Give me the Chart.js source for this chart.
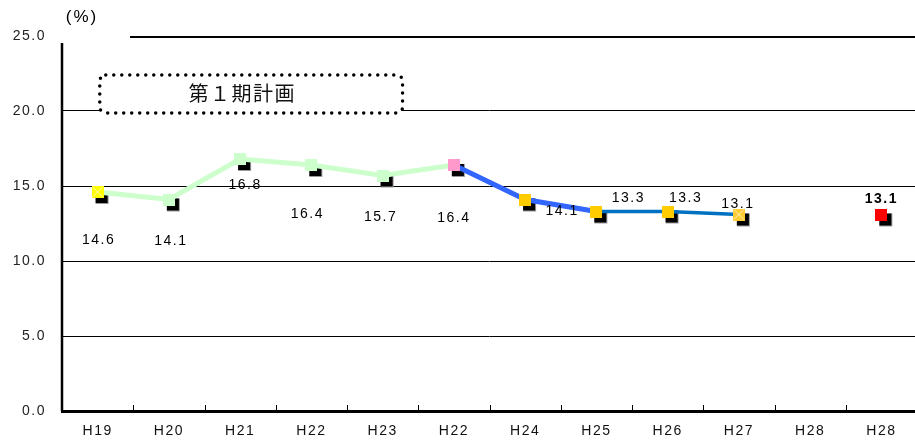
<!DOCTYPE html>
<html>
<head>
<meta charset="utf-8">
<script src="https://cdn.jsdelivr.net/npm/chart.js@4"></script>
<style>
  html, body { margin: 0; padding: 0; background: #fff; overflow: hidden; }
  canvas { display: block; }
</style>
</head>
<body>
<canvas id="c" width="924" height="441"></canvas>
<script>
// Fiscal years on the horizontal axis (H22 and H28 appear twice on purpose)
const years = ['H19', 'H20', 'H21', 'H22', 'H23', 'H22', 'H24', 'H25', 'H26', 'H27', 'H28', 'H28'];
// Rate (%) for each year; no value for the first H28 slot
const rates = [14.6, 14.1, 16.8, 16.4, 15.7, 16.4, 14.1, 13.3, 13.3, 13.1, null, 13.1];
// Value-axis ticks
const yTicks = [0, 5, 10, 15, 20, 25];
const planLabel = '第１期計画';
const unitLabel = '(%)';

// Which stretch of the series each line segment covers (inclusive indices)
const greenRange = [0, 5];
const blueRange = [5, 7];
const navyRange = [7, 9];

function part(range) {
  return rates.map((v, i) => (i >= range[0] && i <= range[1]) ? v : null);
}

// Square marker, optionally with a pale cross through it
function makeMarker(fill, cross) {
  const c = document.createElement('canvas');
  c.width = 12; c.height = 12;
  const g = c.getContext('2d');
  g.fillStyle = fill;
  g.fillRect(0, 0, 12, 12);
  if (cross) {
    g.strokeStyle = cross;
    g.lineWidth = 1;
    g.beginPath();
    g.moveTo(1, 1); g.lineTo(11, 11);
    g.moveTo(11, 1); g.lineTo(1, 11);
    g.stroke();
  }
  return c;
}

const markerStyles = [
  makeMarker('#ffff00', '#ffffb0'),
  makeMarker('#ccffcc'), makeMarker('#ccffcc'), makeMarker('#ccffcc'), makeMarker('#ccffcc'),
  makeMarker('#ff99cc'),
  makeMarker('#ffcc00'), makeMarker('#ffcc00'), makeMarker('#ffcc00'),
  makeMarker('#ffcc33', '#fff0b0'),
  makeMarker('#ffffff'),
  makeMarker('#ff0000')
];

// Where each value label sits relative to its marker
const labelOffsets = [[1, 48], [2, 42], [5, 26], [-4, 49], [-2, 42], [0, 53],
                      [37, 12], [32, -13], [18, -13], [-1, -10], null, [0, -15]];

const AXIS_FONT = '"Liberation Sans", Arial, sans-serif';

const decorPlugin = {
  id: 'decor',
  beforeDraw(chart) {
    // slightly airy lettering for all chart text
    chart.ctx.letterSpacing = '1.5px';
  },
  beforeDatasetsDraw(chart) {
    const ctx = chart.ctx;
    const meta = chart.getDatasetMeta(0);
    ctx.save();
    meta.data.forEach((pt, i) => {
      if (rates[i] == null || pt.skip) return;
      // drop shadow behind each marker
      ctx.fillStyle = '#9a9a9a';
      ctx.fillRect(pt.x - 2, pt.y - 1, 13, 13);
      ctx.fillStyle = '#000';
      ctx.fillRect(pt.x - 2, pt.y - 1, 12, 12);
    });
    ctx.restore();
  },
  afterDatasetsDraw(chart) {
    const ctx = chart.ctx;
    const meta = chart.getDatasetMeta(0);
    ctx.save();
    ctx.fillStyle = '#000';
    ctx.textAlign = 'center';
    ctx.textBaseline = 'middle';
    meta.data.forEach((pt, i) => {
      if (rates[i] == null || !labelOffsets[i]) return;
      const bold = i === rates.length - 1;
      ctx.font = (bold ? 'bold ' : '') + '14px ' + AXIS_FONT;
      ctx.fillText(rates[i].toFixed(1), pt.x + labelOffsets[i][0], pt.y + labelOffsets[i][1]);
    });
    ctx.restore();
  },
  afterDraw(chart) {
    const ctx = chart.ctx;
    const area = chart.chartArea;
    const x = chart.scales.x, y = chart.scales.y;
    ctx.save();

    // left axis line
    ctx.strokeStyle = '#000';
    ctx.lineWidth = 2.5;
    ctx.beginPath();
    ctx.moveTo(area.left, area.top + 7);
    ctx.lineTo(area.left, area.bottom);
    ctx.stroke();

    // top rule at the maximum value
    const yTop = y.getPixelForValue(25);
    ctx.lineWidth = 2;
    ctx.beginPath();
    ctx.moveTo(area.left + 68, yTop + 1);
    ctx.lineTo(area.right, yTop + 1);
    ctx.stroke();

    // short tick marks between categories, pointing into the plot
    ctx.lineWidth = 1;
    for (let i = 1; i < years.length; i++) {
      const px = Math.round((x.getPixelForValue(i - 1) + x.getPixelForValue(i)) / 2) + 0.5;
      ctx.beginPath();
      ctx.moveTo(px, area.bottom);
      ctx.lineTo(px, area.bottom - 6);
      ctx.stroke();
    }

    // unit caption
    ctx.fillStyle = '#000';
    ctx.font = '17px ' + AXIS_FONT;
    ctx.letterSpacing = '2px';
    ctx.textAlign = 'center';
    ctx.textBaseline = 'middle';
    ctx.fillText(unitLabel, area.left + 20, area.top - 19);

    // plan-period callout: dotted rounded box with white fill
    const bx1 = x.getPixelForValue(0.03), bx2 = x.getPixelForValue(4.28);
    const by1 = y.getPixelForValue(22.4), by2 = y.getPixelForValue(19.87);
    ctx.fillStyle = '#fff';
    ctx.beginPath();
    ctx.roundRect(bx1, by1, bx2 - bx1, by2 - by1, 6);
    ctx.fill();
    ctx.setLineDash([0, 8]);
    ctx.lineCap = 'round';
    ctx.lineWidth = 3.5;
    ctx.strokeStyle = '#000';
    ctx.stroke();
    ctx.setLineDash([]);
    ctx.fillStyle = '#111';
    ctx.letterSpacing = '1.5px';
    ctx.font = '20px "Noto Sans CJK JP"';
    ctx.fillText(planLabel, (bx1 + bx2) / 2 - 9, (by1 + by2) / 2 - 1);

    ctx.restore();
  }
};

new Chart(document.getElementById('c'), {
  type: 'line',
  data: {
    labels: years,
    datasets: [
      {
        // markers, drawn on top of the lines
        data: rates,
        showLine: false,
        pointStyle: markerStyles,
        pointRadius: 6,
        pointHoverRadius: 6,
        order: 0
      },
      {
        data: part(greenRange),
        borderColor: '#ccffcc',
        borderWidth: 5,
        pointRadius: 0,
        spanGaps: false,
        order: 3
      },
      {
        data: part(blueRange),
        borderColor: '#3366ff',
        borderWidth: 5,
        pointRadius: 0,
        order: 2
      },
      {
        data: part(navyRange),
        borderColor: '#0070c0',
        borderWidth: 3.5,
        pointRadius: 0,
        order: 1
      }
    ]
  },
  options: {
    responsive: false,
    animation: false,
    events: [],
    layout: { padding: { top: 36, left: 0, right: 0, bottom: 0 } },
    plugins: { legend: { display: false }, tooltip: { enabled: false } },
    scales: {
      x: {
        offset: true,
        grid: { display: false, drawTicks: false },
        border: { display: true, color: '#000', width: 3 },
        ticks: {
          autoSkip: false,
          maxRotation: 0,
          padding: 12,
          color: '#111',
          font: { family: AXIS_FONT, size: 14 }
        },
        afterFit(s) { s.height = 30; }
      },
      y: {
        min: yTicks[0],
        max: yTicks[yTicks.length - 1],
        afterBuildTicks(s) { s.ticks = yTicks.map(v => ({ value: v })); },
        grid: {
          drawTicks: false,
          color: c => (c.tick && (c.tick.value === 0 || c.tick.value === 25)) ? 'rgba(0,0,0,0)' : '#000',
          lineWidth: 1
        },
        border: { display: false },
        ticks: {
          padding: 16,
          color: '#222',
          font: { family: AXIS_FONT, size: 14 },
          callback: v => Number(v).toFixed(1)
        },
        afterFit(s) { s.width = 62; }
      }
    }
  },
  plugins: [decorPlugin]
});
</script>
</body>
</html>
